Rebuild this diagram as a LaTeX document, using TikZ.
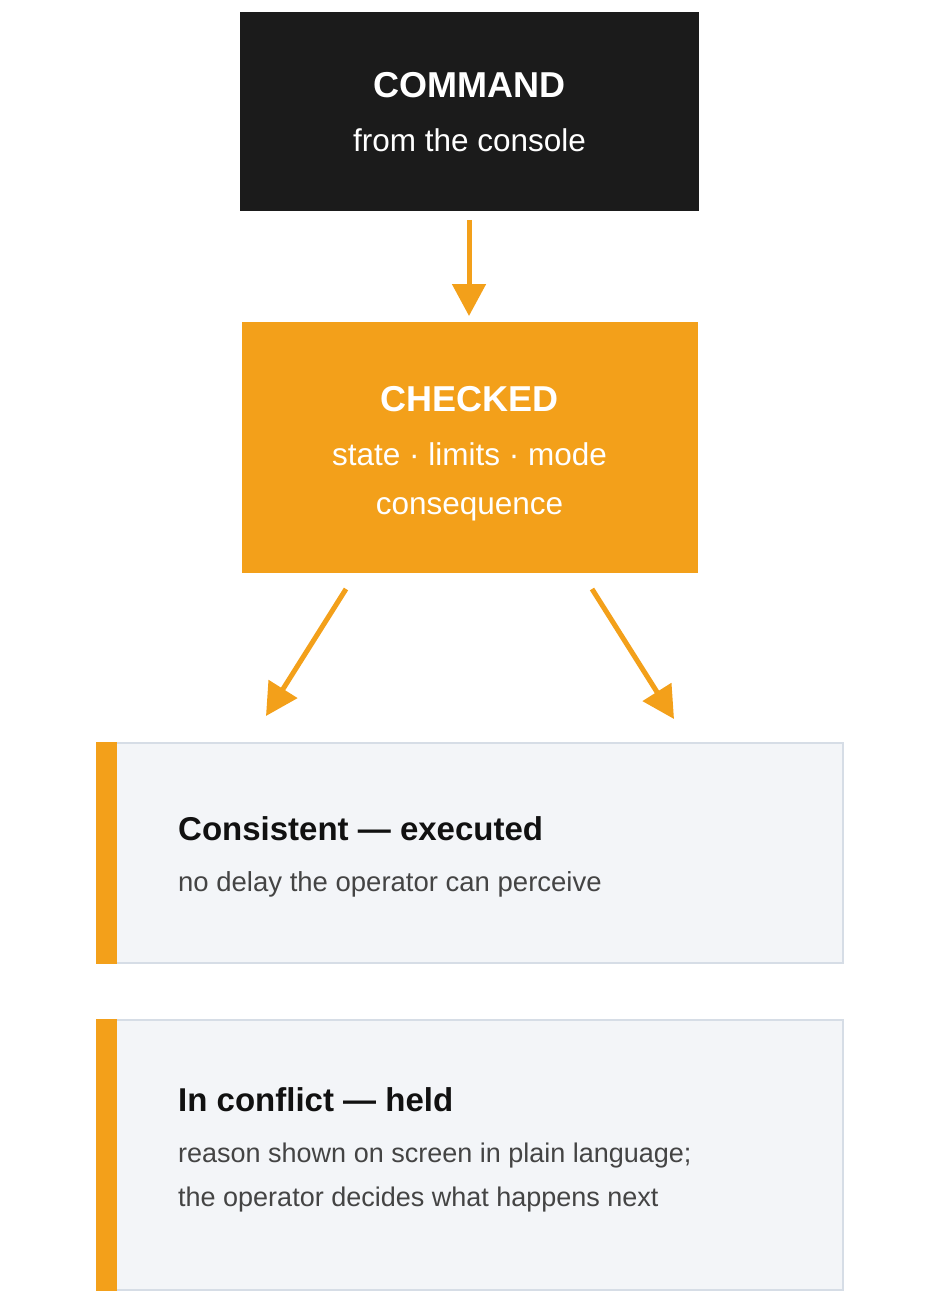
\documentclass[tikz,border=0pt]{standalone}
\usepackage{fontspec}
\setmainfont{Liberation Sans}
\usetikzlibrary{arrows.meta}
\definecolor{cmdblack}{HTML}{1B1B1B}
\definecolor{accent}{HTML}{F3A01A}
\definecolor{panelfill}{HTML}{F3F5F8}
\definecolor{panelline}{HTML}{D6DDE6}
\definecolor{subgrey}{HTML}{444444}
\definecolor{titleblack}{HTML}{111111}
\tikzset{
  flowarrow/.style={draw=accent, line width=5pt, -{Triangle[width=33pt,length=32pt]}},
  headtext/.style={font=\fontsize{36}{40}\selectfont\bfseries, text=white, inner sep=0pt, anchor=base},
  subtext/.style={font=\fontsize{31.5}{36}\selectfont, text=white, inner sep=0pt, anchor=base},
  paneltitle/.style={font=\fontsize{33}{38}\selectfont\bfseries, text=titleblack, inner sep=0pt, anchor=base west},
  panelsub/.style={font=\fontsize{27.5}{32}\selectfont, text=subgrey, inner sep=0pt, anchor=base west},
  panelsubb/.style={panelsub, font=\fontsize{27}{32}\selectfont},
  panel/.style={fill=panelfill, draw=panelline, line width=1.5pt},
  bar/.style={fill=accent, draw=none}
}
\begin{document}
\begin{tikzpicture}[x=1pt,y=-1pt]
\useasboundingbox (0,0) rectangle (941,1297);
% command box
\node[fill=cmdblack, draw=none, minimum width=459pt, minimum height=199pt, inner sep=0pt] (cmd) at (469.5,111.5) {};
\node[headtext] (cmdt) at (469.5,98) {COMMAND};
\node[subtext] (cmds) at (469.5,152) {from the console};
% checked box
\node[fill=accent, draw=none, minimum width=456pt, minimum height=251pt, inner sep=0pt] (chk) at (470,447.5) {};
\node[headtext] (chkt) at (469.5,411) {CHECKED};
\node[subtext] (chks1) at (469.5,465) {state · limits · mode};
\node[subtext] (chks2) at (469.5,514) {consequence};
% arrows
\coordinate (a1s) at (469,220);
\coordinate (a1e) at (469,316);
\draw[flowarrow] (a1s) -- (a1e);
\coordinate (a2s) at (346,589);
\coordinate (a2e) at (266,716);
\draw[flowarrow] (a2s) -- (a2e);
\coordinate (a3s) at (592,589);
\coordinate (a3e) at (674,719);
\draw[flowarrow] (a3s) -- (a3e);
% panel 1
\node[panel, minimum width=746pt, minimum height=220pt, inner sep=0pt] (p1) at (470,853) {};
\fill[bar] (p1.north west) rectangle ([xshift=21pt]p1.south west);
\node[paneltitle] (p1t) at (178,840) {Consistent — executed};
\node[panelsub] (p1s) at (178,891) {no delay the operator can perceive};
% panel 2
\node[panel, minimum width=746pt, minimum height=270pt, inner sep=0pt] (p2) at (470,1155) {};
\fill[bar] (p2.north west) rectangle ([xshift=21pt]p2.south west);
\node[paneltitle] (p2t) at (178,1111) {In conflict — held};
\node[panelsubb] (p2s1) at (178,1162) {reason shown on screen in plain language;};
\node[panelsubb] (p2s2) at (178,1206) {the operator decides what happens next};
\end{tikzpicture}
\end{document}
